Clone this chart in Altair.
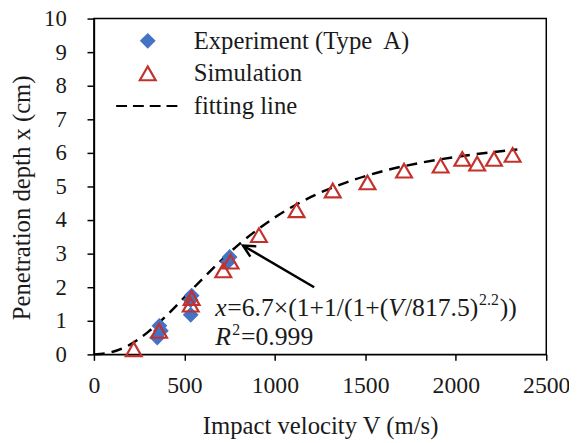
import altair as alt
import pandas as pd

# ---- data ----
exp_v = [350, 362, 370, 535, 535, 540, 740, 750]
exp_x = [0.50, 0.85, 0.70, 1.18, 1.62, 1.75, 2.75, 2.90]

sim_v = [220, 360, 535, 540, 715, 755, 912, 1120, 1320, 1512, 1714, 1916, 2036, 2118, 2211, 2314]
sim_x = [0.15, 0.70, 1.48, 1.68, 2.50, 2.76, 3.55, 4.29, 4.88, 5.12, 5.47, 5.62, 5.82, 5.68, 5.82, 5.94]

fit_v = [0, 100, 200, 300, 400, 500, 600, 700, 800, 900, 1000, 1200, 1400, 1600, 1800, 2000, 2200, 2340]
fit_x = [0.00, 0.07, 0.29, 0.67, 1.15, 1.70, 2.25, 2.78, 3.27, 3.70, 4.08, 4.69, 5.13, 5.46, 5.70, 5.88, 6.02, 6.10]

series_names = ["Experiment (Type\u00a0 A)", "Simulation", "fitting line"]
x_ticks = [0, 500, 1000, 1500, 2000, 2500]
y_ticks = [0, 1, 2, 3, 4, 5, 6, 7, 8, 9, 10]

FONT = "Liberation Serif"
BLUE = "#4472C4"
RED = "#C4302B"
dash_path = "M-4,0H-2.625M-1.875,0H-0.5M0.25,0H1.625M2.375,0H3.75"

pts = pd.DataFrame({
    "V": exp_v + sim_v,
    "depth": exp_x + sim_x,
    "series": [series_names[0]] * len(exp_v) + [series_names[1]] * len(sim_v),
})
fit = pd.DataFrame({"V": fit_v, "depth": fit_x})

xs = alt.Scale(domain=[0, 2500], nice=False)
ys = alt.Scale(domain=[0, 10], nice=False)

xaxis = alt.Axis(values=x_ticks, format="d", title="Impact velocity V (m/s)", grid=False,
                 labelFont=FONT, labelFontSize=24, labelColor="#1a1a1a", labelFlush=False,
                 labelOverlap=False, labelPadding=14, tickSize=6, tickColor="black", tickWidth=1.5,
                 domainColor="black", domainWidth=1.5,
                 titleFont=FONT, titleFontSize=25, titleFontWeight="normal", titleColor="#1a1a1a",
                 titleBaseline="alphabetic", titleY=80)
yaxis = alt.Axis(values=y_ticks, format="d", title="Penetration depth x (cm)", grid=False,
                 labelFont=FONT, labelFontSize=23, labelColor="#1a1a1a", labelFlush=False,
                 labelOverlap=False, labelPadding=21, tickSize=7, tickColor="black", tickWidth=1.5,
                 domainColor="black", domainWidth=1.5,
                 titleFont=FONT, titleFontSize=25, titleFontWeight="normal", titleColor="#1a1a1a",
                 titleAngle=-90, titleBaseline="middle", titleAlign="center",
                 titleX=-73, titleY=181)


def X(field):
    return alt.X(field, type="quantitative", scale=xs, axis=xaxis)


def Y(field):
    return alt.Y(field, type="quantitative", scale=ys, axis=yaxis)


leg = alt.Legend(orient="none", legendX=42, legendY=10, title=None,
                 labelFont=FONT, labelFontSize=25, labelColor="#1a1a1a",
                 symbolSize=256, symbolStrokeWidth=2.2, labelOffset=34,
                 rowPadding=7, padding=0, labelLimit=400)

line = alt.Chart(fit).mark_line(color="black", strokeWidth=2.5, strokeDash=[11, 7],
                                interpolate="monotone").encode(x=X("V"), y=Y("depth"))

points = alt.Chart(pts).mark_point(opacity=1, size=256, strokeWidth=2.2).encode(
    x=X("V"),
    y=Y("depth"),
    shape=alt.Shape("series:N", scale=alt.Scale(domain=series_names,
                    range=["diamond", "triangle-up", dash_path]), legend=leg),
    fill=alt.Fill("series:N", scale=alt.Scale(domain=series_names,
                  range=[BLUE, "transparent", "transparent"]), legend=leg),
    stroke=alt.Stroke("series:N", scale=alt.Scale(domain=series_names,
                      range=["transparent", RED, "black"]), legend=leg),
)

# ---- annotation: arrow and fitted formula ----
arrow_tail_v, arrow_tail_x = [1217], [2.0]
arrow_head_v, arrow_head_x = [824], [3.24]
arrow_df = pd.DataFrame({"V": arrow_tail_v, "depth": arrow_tail_x,
                         "V2": arrow_head_v, "depth2": arrow_head_x})
arrow_line = alt.Chart(arrow_df).mark_rule(color="black", strokeWidth=2.5).encode(
    x=X("V"), y=Y("depth"), x2="V2:Q", y2="depth2:Q")
arrow_head = alt.Chart(arrow_df).mark_point(
    shape="M-0.55,1.1L0,0L0.55,1.1", filled=False, stroke="black", strokeWidth=2.5,
    size=480, angle=300, opacity=1).encode(x=X("V2"), y=Y("depth2"))

anchor = pd.DataFrame({"V": [671], "depth": [1.15]})
segments = [
    # text, dx, dy, size, style
    ("x", 0, 0, 26, "italic"),
    ("=6.7\u00d7(1+1/(1+(", 12, 0, 26, "normal"),
    ("V", 175, 0, 26, "italic"),
    ("/817.5)", 192, 0, 26, "normal"),
    ("2.2", 267, -11, 16, "normal"),
    ("))", 288, 0, 26, "normal"),
    ("R", 0, 30, 26, "italic"),
    ("2", 17, 19, 16, "normal"),
    ("=0.999", 26, 30, 26, "normal"),
]
texts = []
for t, dx, dy, fs, st in segments:
    texts.append(alt.Chart(anchor).mark_text(
        text=t, dx=dx, dy=dy, align="left", baseline="alphabetic",
        font=FONT, fontSize=fs, fontStyle=st, color="#1a1a1a").encode(
        x=X("V"), y=Y("depth")))

chart = alt.layer(line, points, arrow_line, arrow_head, *texts).properties(
    width=458, height=340,
    autosize=alt.AutoSizeParams(type="none"),
    padding={"left": 87, "top": 8, "right": 23, "bottom": 85},
).configure_view(stroke="black", strokeWidth=1.5)

chart.save("out.html", embed_options={"renderer": "svg", "actions": False})
